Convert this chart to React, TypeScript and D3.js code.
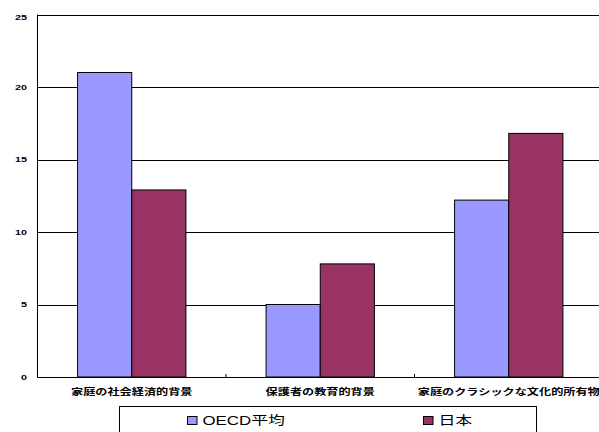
import React, { useEffect } from "react";
import * as d3 from "d3";

const categories = ["家庭の社会経済的背景", "保護者の教育的背景", "家庭のクラシックな文化的所有物"];
const seriesNames = ["OECD平均", "日本"];
const oecdValues = [21.0, 5.0, 12.2];
const japanValues = [12.9, 7.8, 16.8];
const yTicks = [0, 5, 10, 15, 20, 25];
const colors = ["#9999FF", "#993366"];

const W = 599;
const H = 432;
const SX = 1.35;

export default function App() {
  useEffect(() => {
    document.body.style.margin = "0";
  }, []);

  const left = 37.5;
  const top = 14.5;
  const bottom = 377;
  const bandW = 188.5;
  const right = left + bandW * categories.length;

  const y = d3.scaleLinear().domain([0, 25]).range([bottom, top]);
  const x0 = d3.scaleBand<string>().domain(categories).range([left, right]).paddingInner(0).paddingOuter(0);
  const x1 = d3
    .scaleBand<string>()
    .domain(seriesNames)
    .range([0, x0.bandwidth()])
    .paddingInner(0)
    .paddingOuter(0.74);

  const series = [oecdValues, japanValues];
  const latin = "'Liberation Sans', Arial, 'Noto Sans CJK JP', sans-serif";

  return (
    <svg width={W} height={H} style={{ position: "absolute", left: 0, top: 0, background: "#fff" }}>
      <rect x={0} y={0} width={W} height={H} fill="#fff" />
      {yTicks.map((t) => (
        <line key={"g" + t} x1={left} x2={W} y1={Math.round(y(t)) + 0.5} y2={Math.round(y(t)) + 0.5} stroke="#000" strokeWidth={1} />
      ))}
      {categories.map((c, ci) =>
        seriesNames.map((s, si) => {
          const v = series[si][ci];
          const bx = (x0(c) as number) + (x1(s) as number);
          return (
            <rect
              key={c + s}
              x={bx}
              y={y(v)}
              width={x1.bandwidth()}
              height={y(0) - y(v)}
              fill={colors[si]}
              stroke="#000"
              strokeWidth={1}
            />
          );
        })
      )}
      <line x1={left} x2={left} y1={y(25)} y2={y(0)} stroke="#000" strokeWidth={1} />
      <line x1={left} x2={W} y1={Math.round(y(0)) + 0.5} y2={Math.round(y(0)) + 0.5} stroke="#000" strokeWidth={1} />
      {categories.slice(1).map((c) => (
        <line key={"tk" + c} x1={x0(c) as number} x2={x0(c) as number} y1={y(0) - 3} y2={y(0)} stroke="#000" strokeWidth={1} />
      ))}
      {yTicks.map((t) => (
        <text
          key={"yl" + t}
          transform={`translate(27,${y(t) + (t === 25 ? 3 : 0)}) scale(${SX},1)`}
          textAnchor="end"
          dominantBaseline="central"
          fontSize={8}
          fontWeight="bold"
          fontFamily={latin}
          fill="#000"
        >
          {t}
        </text>
      ))}
      {categories.map((c) => (
        <text
          key={"cl" + c}
          transform={`translate(${(x0(c) as number) + x0.bandwidth() / 2},391) scale(${SX},1)`}
          textAnchor="middle"
          dominantBaseline="central"
          fontSize={9}
          fontWeight={600}
          fontFamily="'Noto Sans CJK JP', sans-serif"
          fill="#000"
        >
          {c}
        </text>
      ))}
      <rect x={119.5} y={406.5} width={417} height={40} fill="#fff" stroke="#000" strokeWidth={1} />
      {seriesNames.map((s, i) => {
        const lx = [187.5, 423.5][i];
        return (
          <g key={"lg" + s}>
            <rect x={lx} y={416.5} width={9.5} height={8} fill={colors[i]} stroke="#000" strokeWidth={1} />
            <text
              transform={`translate(${lx + 15},421) scale(${SX},1)`}
              dominantBaseline="central"
              fontSize={12.5}
              fontFamily={latin}
              fill="#000"
            >
              {s}
            </text>
          </g>
        );
      })}
    </svg>
  );
}
